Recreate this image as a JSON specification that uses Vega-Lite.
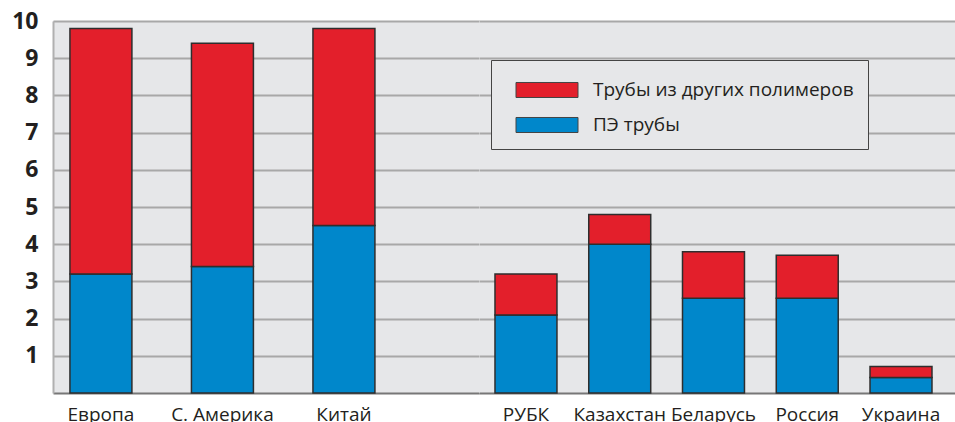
{
  "$schema": "https://vega.github.io/schema/vega-lite/v6.json",
  "padding": {"left": 11, "top": 10, "right": 0, "bottom": 0},
  "spacing": 0,
  "datasets": {
    "world": [
      {"region": "Европа", "series": "ПЭ трубы", "value": 3.2},
      {"region": "Европа", "series": "Трубы из других полимеров", "value": 6.6},
      {"region": "С. Америка", "series": "ПЭ трубы", "value": 3.4},
      {"region": "С. Америка", "series": "Трубы из других полимеров", "value": 6.0},
      {"region": "Китай", "series": "ПЭ трубы", "value": 4.5},
      {"region": "Китай", "series": "Трубы из других полимеров", "value": 5.3}
    ],
    "cis": [
      {"region": "РУБК", "series": "ПЭ трубы", "value": 2.1},
      {"region": "РУБК", "series": "Трубы из других полимеров", "value": 1.1},
      {"region": "Казахстан", "series": "ПЭ трубы", "value": 4.0},
      {"region": "Казахстан", "series": "Трубы из других полимеров", "value": 0.8},
      {"region": "Беларусь", "series": "ПЭ трубы", "value": 2.55},
      {"region": "Беларусь", "series": "Трубы из других полимеров", "value": 1.25},
      {"region": "Россия", "series": "ПЭ трубы", "value": 2.55},
      {"region": "Россия", "series": "Трубы из других полимеров", "value": 1.15},
      {"region": "Украина", "series": "ПЭ трубы", "value": 0.42},
      {"region": "Украина", "series": "Трубы из других полимеров", "value": 0.29}
    ]
  },
  "hconcat": [
    {
      "data": {"name": "world"},
      "width": 426,
      "height": 372,
      "mark": {"type": "bar", "stroke": "#2e2e2e", "strokeWidth": 1.5},
      "encoding": {
        "x": {
          "field": "region", "type": "nominal", "sort": null, "title": null,
          "scale": {"paddingInner": 0.49, "paddingOuter": 0.498, "align": 0.14},
          "axis": {"labelAngle": 0, "ticks": false, "domainColor": "#777777", "domainWidth": 2, "labelPadding": 12, "labelFontSize": 19, "labelFont": "Open Sans", "labelColor": "#231f20", "grid": false}
        },
        "y": {
          "field": "value", "type": "quantitative", "stack": "zero", "title": null,
          "scale": {"domain": [0, 10], "nice": false},
          "axis": {"values": [1, 2, 3, 4, 5, 6, 7, 8, 9, 10], "ticks": false, "domainColor": "#b0b0b0", "domainWidth": 2, "labelPadding": 15, "labelFontSize": 23, "labelFontWeight": "bold", "labelFont": "Open Sans", "labelColor": "#231f20", "grid": true, "gridColor": "#a8a8a8", "gridWidth": 2}
        },
        "color": {
          "field": "series", "type": "nominal",
          "scale": {"domain": ["Трубы из других полимеров", "ПЭ трубы"], "range": ["#e31f2b", "#0087cb"]},
          "legend": null
        },
        "order": {"field": "series", "sort": "ascending"}
      }
    },
    {
      "data": {"name": "cis"},
      "width": 476,
      "height": 372,
      "mark": {"type": "bar", "stroke": "#2e2e2e", "strokeWidth": 1.5},
      "encoding": {
        "x": {
          "field": "region", "type": "nominal", "sort": null, "title": null,
          "scale": {"paddingInner": 0.339, "paddingOuter": 0.208, "align": 0.41},
          "axis": {"labelAngle": 0, "ticks": false, "domainColor": "#777777", "domainWidth": 2, "labelPadding": 12, "labelFontSize": 19, "labelFont": "Open Sans", "labelColor": "#231f20", "grid": false}
        },
        "y": {
          "field": "value", "type": "quantitative", "stack": "zero", "title": null,
          "scale": {"domain": [0, 10], "nice": false},
          "axis": {"values": [1, 2, 3, 4, 5, 6, 7, 8, 9, 10], "ticks": false, "labels": false, "domain": false, "grid": true, "gridColor": "#a8a8a8", "gridWidth": 2}
        },
        "color": {
          "field": "series", "type": "nominal",
          "scale": {"domain": ["Трубы из других полимеров", "ПЭ трубы"], "range": ["#e31f2b", "#0087cb"]},
          "legend": {
            "title": null,
            "orient": "none",
            "legendX": 12,
            "legendY": 39,
            "padding": 14,
            "fillColor": "#e6e7e9",
            "strokeColor": "#444444",
            "symbolType": "M-2,-0.484H2V0.484H-2Z",
            "symbolSize": 961,
            "symbolOffset": 26,
            "symbolStrokeColor": "#444444",
            "symbolStrokeWidth": 1,
            "symbolOpacity": 1,
            "labelOffset": 30,
            "labelLimit": 400,
            "labelFontSize": 19,
            "labelFont": "Open Sans",
            "labelColor": "#231f20",
            "rowPadding": 9
          }
        },
        "order": {"field": "series", "sort": "ascending"}
      }
    }
  ],
  "resolve": {"legend": {"color": "independent"}},
  "config": {
    "view": {"stroke": null, "fill": "#e6e7e9"},
    "background": "#ffffff"
  }
}
